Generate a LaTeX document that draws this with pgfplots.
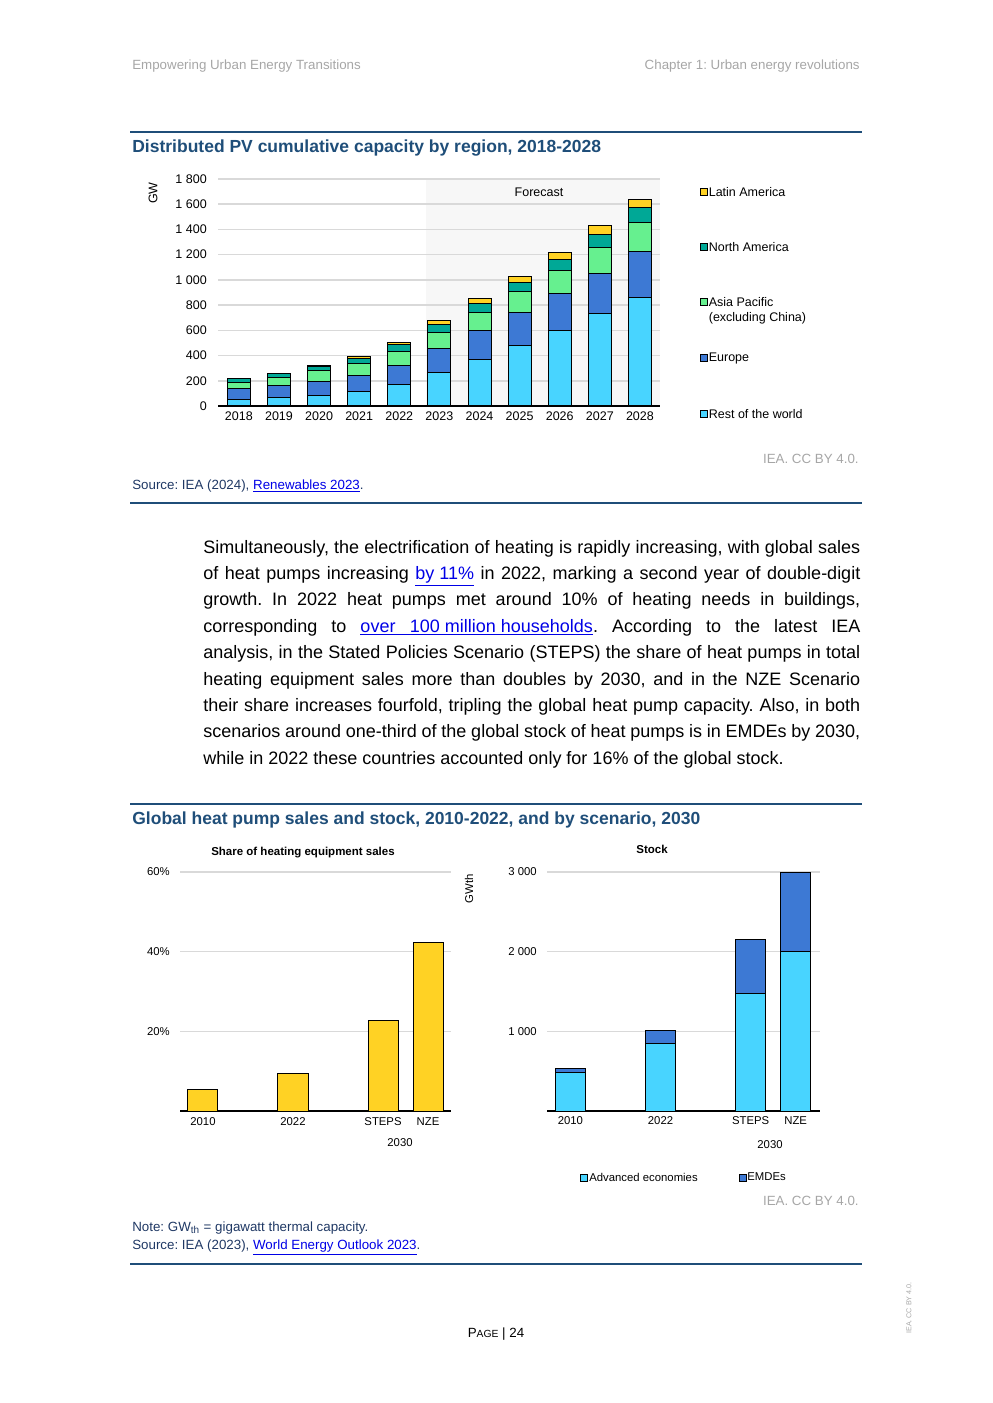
\documentclass[border=0pt]{standalone}
\usepackage{pgfplots}
\pgfplotsset{compat=1.18}
\usepackage{fontspec}
\setmainfont{Liberation Sans}
\frenchspacing

\definecolor{rowc}{RGB}{72,212,255}
\definecolor{eurc}{RGB}{61,121,212}
\definecolor{apac}{RGB}{102,240,143}
\definecolor{nac}{RGB}{0,168,150}
\definecolor{latc}{RGB}{255,210,36}
\definecolor{ieablue}{RGB}{31,78,121}
\definecolor{srcblue}{RGB}{31,56,100}
\definecolor{hdrgray}{RGB}{166,166,166}
\definecolor{gridc}{RGB}{217,217,217}
\definecolor{lnk}{RGB}{0,0,230}
\definecolor{fcshade}{RGB}{247,247,247}

\newcommand\fs[1]{\fontsize{#1}{1.2\dimexpr#1pt\relax}\selectfont}
\newcommand\lnk[1]{\textcolor{lnk}{\underline{#1}}}
\newcommand\bline[1]{\makebox[394.2pt][s]{#1}}

\tikzset{lbl/.style={inner sep=0}}

\pgfplotsset{
  iea/.style={
    scale only axis, anchor=south west,
    enlargelimits=false, ymin=0,
    axis lines*=left,
    y axis line style={draw=none},
    x axis line style={draw=black, line width=0.9pt},
    tick style={draw=none},
    ymajorgrids, major grid style={draw=gridc, line width=0.9pt},
    /pgf/number format/assume math mode=true,
    /pgf/number format/1000 sep={\ },
    every axis plot/.append style={draw=black, line width=0.6pt},
  }
}

\begin{document}
\begin{tikzpicture}[x=0.6pt, y=-0.6pt]
\path[use as bounding box] (0,0) rectangle (992,1403);

% header
\node[lbl, anchor=west, text=hdrgray, font=\fs{8}] at (132,66) {Empowering Urban Energy Transitions};
\node[lbl, anchor=east, text=hdrgray, font=\fs{8}] at (860,66) {Chapter 1: Urban energy revolutions};

% ---- figure 1 ----
\draw[ieablue, line width=1.2pt] (130,132) -- (862,132);
\node[lbl, anchor=west, text=ieablue, font=\fs{10.5}\bfseries] at (132,148) {Distributed PV cumulative capacity by region, 2018-2028};
\fill[fcshade] (426,179) rectangle (660,406);

\begin{axis}[iea,
  at={(130.8pt,-243.6pt)}, width=265.2pt, height=136.2pt,
  ymax=1800, ytick={0,200,...,1800},
  xmin=-0.52, xmax=10.5,
  xtick={0,...,10},
  xticklabels={2018,2019,2020,2021,2022,2023,2024,2025,2026,2027,2028},
  ticklabel style={font=\fs{7.5}},
  yticklabel style={xshift=-3.2pt},
  ybar stacked, bar width=0.574,
]
\addplot[fill=rowc] coordinates {(0,53) (1,66) (2,82) (3,113) (4,169) (5,264) (6,366) (7,477) (8,596) (9,730) (10,864)};
\addplot[fill=eurc] coordinates {(0,84) (1,95) (2,110) (3,127) (4,150) (5,189) (6,230) (7,261) (8,300) (9,324) (10,364)};
\addplot[fill=apac] coordinates {(0,47) (1,63) (2,87) (3,95) (4,111) (5,127) (6,142) (7,166) (8,182) (9,206) (10,229)};
\addplot[fill=nac] coordinates {(0,32) (1,32) (2,35) (3,44) (4,55) (5,63) (6,71) (7,79) (8,87) (9,102) (10,119)};
\addplot[fill=latc] coordinates {(0,2) (1,2) (2,6) (3,10) (4,18) (5,34) (6,42) (7,47) (8,55) (9,66) (10,63)};
\end{axis}
\node[lbl, rotate=90, font=\fs{7.5}] at (153,193) {GW};
\node[lbl, font=\fs{7.5}] at (539,192) {Forecast};

% legend 1
\foreach \c/\y/\t in {latc/192/Latin America, nac/247/North America, apac/302/Asia Pacific, eurc/358/Europe, rowc/414/Rest of the world}{
  \filldraw[fill=\c, draw=black, line width=0.5pt] (700,\y-3.5) rectangle (707,\y+3.5);
  \node[lbl, anchor=west, font=\fs{7.5}] at (708.5,\y) {\t};
}
\node[lbl, anchor=west, font=\fs{7.5}] at (708.5,318) {(excluding China)};

\node[lbl, anchor=east, text=hdrgray, font=\fs{8}] at (859,459) {IEA. CC BY 4.0.};
\node[lbl, anchor=base west, text=srcblue, font=\fs{8}] at (132,489) {Source: IEA (2024), \lnk{Renewables 2023}.};
\draw[ieablue, line width=0.7pt] (130,503) -- (862,503);

% ---- body text ----
\begin{scope}[every node/.style={anchor=base west, inner sep=0, font=\fs{10.8}}]
\node at (203,553.0) {\bline{Simultaneously, the electrification of heating is rapidly increasing, with global sales}};
\node at (203,579.4) {\bline{of heat pumps increasing \lnk{by 11\%} in 2022, marking a second year of double-digit}};
\node at (203,605.8) {\bline{growth. In 2022 heat pumps met around 10\% of heating needs in buildings,}};
\node at (203,632.2) {\bline{corresponding to \lnk{over\hspace{0.8em}100 million households}. According to the latest IEA}};
\node at (203,658.6) {\bline{analysis, in the Stated Policies Scenario (STEPS) the share of heat pumps in total}};
\node at (203,685.0) {\bline{heating equipment sales more than doubles by 2030, and in the NZE Scenario}};
\node at (203,711.4) {\bline{their share increases fourfold, tripling the global heat pump capacity. Also, in both}};
\node at (203,737.8) {\bline{scenarios around one-third of the global stock of heat pumps is in EMDEs by 2030,}};
\node at (203,764.2) {while in 2022 these countries accounted only for 16\% of the global stock.};
\end{scope}

% ---- figure 2 ----
\draw[ieablue, line width=1.2pt] (130,804) -- (862,804);
\node[lbl, anchor=west, text=ieablue, font=\fs{10.5}\bfseries] at (132,820) {Global heat pump sales and stock, 2010-2022, and by scenario, 2030};
\node[lbl, font=\fs{6.9}\bfseries] at (303,853) {Share of heating equipment sales};
\node[lbl, font=\fs{6.9}\bfseries] at (652,849) {Stock};

\begin{axis}[iea,
  at={(108pt,-666.6pt)}, width=162.6pt, height=143.4pt,
  ymax=60, ytick={20,40,60},
  yticklabel={\pgfmathprintnumber{\tick}\%},
  xmin=-0.51, xmax=5.51,
  xtick={0,2,4,5}, xticklabels={2010,2022,STEPS,NZE},
  ticklabel style={font=\fs{6.8}},
  yticklabel style={xshift=-2.6pt},
  xticklabel style={yshift=3.6pt},
  ybar, bar width=0.667,
]
\addplot[fill=latc] coordinates {(0,5.5) (2,9.5) (4,22.8) (5,42.2)};
\end{axis}
\node[lbl, font=\fs{6.8}] at (400,1143) {2030};

\begin{axis}[iea,
  at={(328.2pt,-666.6pt)}, width=163.8pt, height=143.4pt,
  ymax=3000, ytick={1000,2000,3000},
  xmin=-0.52, xmax=5.54,
  xtick={0,2,4,5}, xticklabels={2010,2022,STEPS,NZE},
  ticklabel style={font=\fs{6.8}},
  yticklabel style={xshift=-2.6pt},
  ybar stacked, bar width=0.667,
]
\addplot[fill=rowc] coordinates {(0,486) (2,850) (4,1479) (5,2007)};
\addplot[fill=eurc] coordinates {(0,50) (2,164) (4,670) (5,993)};
\end{axis}
\node[lbl, rotate=90, font=\fs{6.8}] at (469,889) {GWth};
\node[lbl, font=\fs{6.8}] at (770,1145) {2030};

\filldraw[fill=rowc, draw=black, line width=0.5pt] (580,1174) rectangle (587,1181);
\node[lbl, anchor=west, font=\fs{6.8}] at (589,1177) {Advanced economies};
\filldraw[fill=eurc, draw=black, line width=0.5pt] (739,1174) rectangle (746,1181);
\node[lbl, anchor=west, font=\fs{6.8}] at (747,1177) {EMDEs};

\node[lbl, anchor=east, text=hdrgray, font=\fs{8}] at (859,1201) {IEA. CC BY 4.0.};
\node[lbl, anchor=base west, text=srcblue, font=\fs{8}] at (132,1231) {Note: GW\textsubscript{th} = gigawatt thermal capacity.};
\node[lbl, anchor=base west, text=srcblue, font=\fs{8}] at (132,1249) {Source: IEA (2023), \lnk{World Energy Outlook 2023}.};
\draw[ieablue, line width=1.2pt] (130,1264) -- (862,1264);

% footer
\node[lbl, font=\fs{8}] at (496,1334) {P{\fs{6.2}AGE} | 24};
\node[lbl, rotate=90, text=hdrgray, font=\fs{4.3}] at (909,1308) {IEA. CC BY 4.0.};
\end{tikzpicture}
\end{document}
